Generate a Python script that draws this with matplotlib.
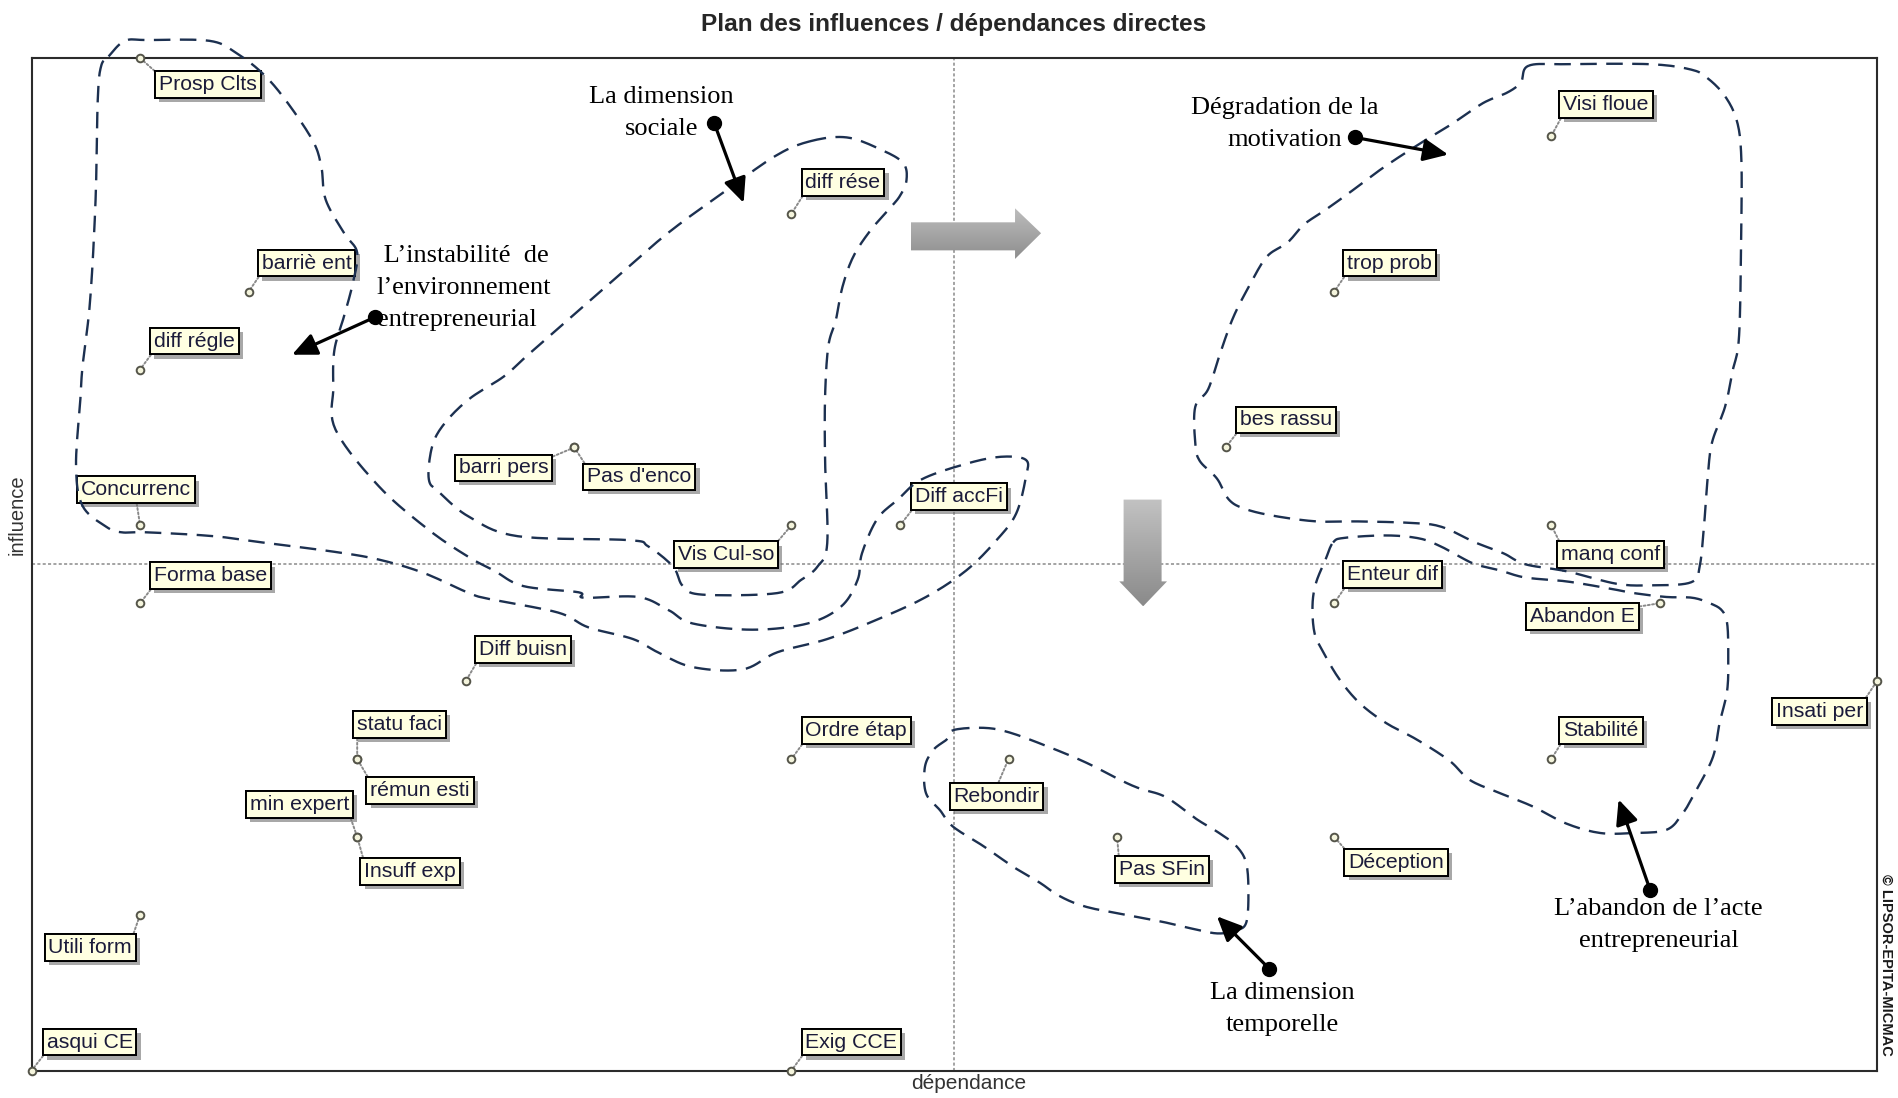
import numpy as np
import matplotlib
matplotlib.use("Agg")
import matplotlib.pyplot as plt
from matplotlib.patches import Polygon
from matplotlib.colors import LinearSegmentedColormap
import matplotlib.patheffects as pe

# ---------------- data ----------------
labels = ["Prosp Clts", "barriè ent", "diff régle", "Concurrenc", "Forma base",
          "barri pers", "Pas d'enco", "Vis Cul-so", "diff rése", "Diff accFi",
          "Diff buisn", "statu faci", "rémun esti", "min expert", "Insuff exp",
          "Utili form", "asqui CE", "Exig CCE", "Ordre étap", "Rebondir",
          "Pas SFin", "Déception", "Visi floue", "trop prob", "bes rassu",
          "manq conf", "Enteur dif", "Abandon E", "Stabilité", "Insati per"]
dependance = [1, 2, 1, 1, 1, 5, 5, 7, 7, 8, 4, 3, 3, 3, 3, 1, 0, 7, 7, 9,
              10, 12, 14, 12, 11, 14, 12, 15, 14, 17]
influence = [13, 10, 9, 7, 6, 8, 8, 7, 11, 7, 5, 4, 4, 3, 3, 2, 0, 0, 4, 4,
             3, 3, 12, 10, 8, 7, 6, 6, 4, 5]

title = "Plan des influences / dépendances directes"
x_label = "dépendance"
y_label = "influence"
credit = "© LIPSOR-EPITA-MICMAC"

# label placement (pixel offsets of the text anchor from its point)
label_offsets = [
    (19, -17, "left", "top"), (13, 19, "left", "bottom"), (14, 19, "left", "bottom"),
    (-4, 26, "center", "bottom"), (14, 18, "left", "bottom"), (-26, -11, "right", "top"),
    (13, -20, "left", "top"), (-17, -20, "right", "top"), (14, 22, "left", "bottom"),
    (15, 19, "left", "bottom"), (13, 22, "left", "bottom"), (0, 25, "left", "bottom"),
    (13, -22, "left", "top"), (-8, 23, "right", "bottom"), (7, -25, "left", "top"),
    (-8, -23, "right", "top"), (15, 19, "left", "bottom"), (14, 19, "left", "bottom"),
    (14, 19, "left", "bottom"), (-12, -28, "center", "top"), (2, -23, "left", "top"),
    (14, -16, "left", "top"), (12, 22, "left", "bottom"), (13, 19, "left", "bottom"),
    (14, 18, "left", "bottom"), (10, -20, "left", "top"), (13, 19, "left", "bottom"),
    (-25, -4, "right", "top"), (12, 19, "left", "bottom"), (-14, -21, "right", "top"),
]

# hand-drawn group outlines (in dependance / influence units)
outline_instabilite = [
    (0.71, 13.02), (0.86, 13.22), (1.07, 13.23), (1.64, 13.22), (1.89, 13.06), (2.13, 12.80),
    (2.34, 12.46), (2.59, 11.94), (2.67, 11.60), (2.71, 11.18), (2.88, 10.75), (3.00, 10.50),
    (2.96, 10.11), (2.88, 9.69), (2.79, 9.25), (2.78, 8.77), (2.80, 8.23), (3.20, 7.50),
    (3.66, 6.94), (4.03, 6.59), (4.26, 6.42), (4.53, 6.22), (5.04, 6.14), (5.09, 6.07),
    (5.59, 6.08), (5.87, 5.91), (6.09, 5.74), (6.64, 5.66), (7.15, 5.74), (7.46, 5.96),
    (7.61, 6.30), (7.65, 6.64), (7.79, 7.08), (7.98, 7.33), (8.20, 7.59), (8.61, 7.79),
    (8.93, 7.88), (9.16, 7.84), (9.16, 7.62), (9.07, 7.15), (8.89, 6.81), (8.61, 6.42),
    (8.24, 6.08), (7.79, 5.79), (7.33, 5.54), (6.87, 5.37), (6.55, 5.15), (6.09, 5.18),
    (5.77, 5.37), (5.54, 5.54), (5.13, 5.69), (4.85, 5.88), (4.23, 6.05), (4.03, 6.13),
    (3.61, 6.39), (3.20, 6.56), (2.79, 6.66), (2.18, 6.77), (1.68, 6.86), (1.07, 6.91),
    (0.83, 6.91), (0.69, 6.98), (0.47, 7.25), (0.41, 7.76), (0.45, 8.62), (0.47, 9.04),
    (0.54, 9.89), (0.59, 11.18), (0.61, 12.46), (0.64, 12.89),
]
outline_sociale = [
    (7.17, 11.93), (7.51, 11.98), (7.83, 11.82), (8.03, 11.65), (8.06, 11.43), (8.00, 11.23),
    (7.90, 11.06), (7.73, 10.79), (7.57, 10.45), (7.47, 10.06), (7.41, 9.64), (7.34, 9.30),
    (7.31, 8.65), (7.31, 7.84), (7.33, 6.77), (7.24, 6.47), (7.09, 6.30), (6.87, 6.13),
    (6.18, 6.11), (6.00, 6.22), (5.91, 6.47), (5.68, 6.73), (5.50, 6.81), (4.48, 6.86),
    (4.03, 7.11), (3.76, 7.42), (3.66, 7.59), (3.69, 8.01), (3.80, 8.30), (4.03, 8.62),
    (4.35, 8.91), (4.55, 9.16), (4.87, 9.55), (5.37, 10.16), (5.86, 10.75), (6.36, 11.26),
    (6.85, 11.74),
]
outline_temporelle = [
    (8.49, 4.37), (8.77, 4.40), (9.01, 4.34), (9.38, 4.15), (9.72, 3.95), (10.03, 3.73),
    (10.21, 3.62), (10.45, 3.51), (10.73, 3.23), (10.94, 3.05), (11.10, 2.88), (11.19, 2.66),
    (11.21, 2.27), (11.19, 1.90), (11.10, 1.80), (10.94, 1.76), (10.76, 1.80), (10.45, 1.90),
    (10.15, 1.98), (9.72, 2.10), (9.47, 2.24), (9.29, 2.41), (9.05, 2.61), (8.77, 2.88),
    (8.49, 3.13), (8.37, 3.34), (8.24, 3.56), (8.23, 3.90), (8.31, 4.12), (8.43, 4.25),
]
outline_motivation = [
    (13.79, 12.90), (14.14, 12.92), (14.91, 12.92), (15.29, 12.85), (15.44, 12.74), (15.60, 12.51),
    (15.71, 12.19), (15.75, 11.73), (15.75, 10.81), (15.73, 9.44), (15.67, 8.98), (15.60, 8.52),
    (15.48, 8.06), (15.44, 7.60), (15.41, 7.05), (15.37, 6.50), (15.29, 6.27), (14.91, 6.23),
    (14.60, 6.25), (14.14, 6.41), (13.76, 6.50), (13.56, 6.64), (13.30, 6.78), (12.99, 6.98),
    (12.72, 7.03), (12.22, 7.05), (11.84, 7.05), (11.45, 7.12), (11.18, 7.21), (11.03, 7.33),
    (10.92, 7.60), (10.76, 7.83), (10.72, 8.06), (10.72, 8.52), (10.84, 8.75), (10.95, 9.21),
    (11.07, 9.67), (11.22, 10.08), (11.38, 10.45), (11.57, 10.63), (11.72, 10.86), (11.91, 11.04),
    (12.14, 11.27), (12.45, 11.59), (12.80, 11.91), (13.07, 12.14), (13.37, 12.42), (13.60, 12.56),
    (13.72, 12.69),
]
outline_abandon = [
    (11.99, 6.78), (12.10, 6.84), (12.49, 6.87), (12.79, 6.83), (12.98, 6.73), (13.14, 6.61),
    (13.30, 6.50), (13.53, 6.42), (13.76, 6.33), (14.14, 6.28), (14.53, 6.19), (14.76, 6.13),
    (15.06, 6.08), (15.30, 6.07), (15.46, 6.00), (15.57, 5.91), (15.62, 5.74), (15.63, 5.32),
    (15.62, 4.88), (15.55, 4.46), (15.49, 4.03), (15.34, 3.61), (15.21, 3.30), (15.06, 3.09),
    (14.76, 3.05), (14.45, 3.05), (14.14, 3.17), (13.83, 3.39), (13.53, 3.56), (13.25, 3.73),
    (13.06, 3.98), (12.76, 4.25), (12.48, 4.46), (12.24, 4.71), (12.05, 5.02), (11.90, 5.37),
    (11.82, 5.61), (11.80, 5.96), (11.83, 6.25), (11.92, 6.56),
]

# group captions: text, centre, alignment, arrow tail (dot) and arrow head
captions = [
    ("La dimension\nsociale", (5.80, 12.29), "center", (6.29, 12.16), (6.56, 11.14)),
    (" L\u2019instabilité  de\nl\u2019environnement\nentrepreneurial", (3.18, 10.05), "left",
     (3.16, 9.67), (2.40, 9.19)),
    ("Dégradation de la\nmotivation", (11.54, 12.15), "center", (12.19, 11.98), (13.05, 11.76)),
    ("La dimension\ntemporelle", (11.52, 0.79), "center", (11.40, 1.31), (10.92, 1.98)),
    ("L\u2019abandon de l\u2019acte\nentrepreneurial", (14.99, 1.87), "center", (14.91, 2.32), (14.62, 3.48)),
]

# grey block arrows
block_right = [(8.10, 10.53), (9.06, 10.53), (9.06, 10.42), (9.30, 10.75), (9.06, 11.07),
               (9.06, 10.89), (8.10, 10.89)]
block_down = [(10.06, 7.33), (10.41, 7.33), (10.41, 6.28), (10.46, 6.28), (10.24, 5.96),
              (10.02, 6.28), (10.06, 6.28)]

X_MAX, Y_MAX = 17, 13

# ---------------- figure ----------------
fig = plt.figure(figsize=(18.99, 10.98), dpi=100)
ax = fig.add_axes([0.0166, 0.025, 0.9718, 0.9222])
ax.set_xlim(0, X_MAX)
ax.set_ylim(0, Y_MAX)
ax.set_xticks([])
ax.set_yticks([])
for s in ax.spines.values():
    s.set_color("#2b2b2b")
    s.set_linewidth(1.5)

# mid lines
ax.axvline(X_MAX / 2, color="#8a8a8a", lw=1.1, ls=(0, (2, 1.5)), zorder=1)
ax.axhline(Y_MAX / 2, color="#8a8a8a", lw=1.1, ls=(0, (2, 1.5)), zorder=1)


def grad_block(poly_xy, c_top, c_bottom):
    poly = Polygon(poly_xy, closed=True, fc="none", ec="none", zorder=2)
    ax.add_patch(poly)
    xs, ys = zip(*poly_xy)
    grad = np.linspace(0, 1, 256).reshape(-1, 1)
    cmap = LinearSegmentedColormap.from_list("g", [c_top, c_bottom])
    im = ax.imshow(grad, extent=(min(xs), max(xs), min(ys), max(ys)), origin="upper",
                   cmap=cmap, aspect="auto", zorder=2, interpolation="bilinear")
    im.set_clip_path(poly)


grad_block(block_right, "#bdbdbd", "#8e8e8e")
grad_block(block_down, "#c2c2c2", "#8a8a8a")
ax.set_xlim(0, X_MAX)
ax.set_ylim(0, Y_MAX)


def smooth_closed(pts, n=10):
    P = np.asarray(pts, dtype=float)
    N = len(P)
    t = np.linspace(0, 1, n, endpoint=False)[:, None]
    segs = []
    for i in range(N):
        p0, p1, p2, p3 = P[i - 1], P[i], P[(i + 1) % N], P[(i + 2) % N]
        segs.append(0.5 * (2 * p1 + (-p0 + p2) * t + (2 * p0 - 5 * p1 + 4 * p2 - p3) * t ** 2
                           + (-p0 + 3 * p1 - 3 * p2 + p3) * t ** 3))
    out = np.vstack(segs)
    return np.vstack([out, out[:1]])


for outline in (outline_instabilite, outline_sociale, outline_temporelle,
                outline_motivation, outline_abandon):
    c = smooth_closed(outline)
    ax.plot(c[:, 0], c[:, 1], color="#1c3050", lw=1.7, ls=(0, (7, 4)),
            zorder=6, clip_on=False, solid_capstyle="butt", dash_capstyle="butt")

# labels with leader lines
for name, x, y, (dx, dy, ha, va) in zip(labels, dependance, influence, label_offsets):
    rel = ({"left": 0.0, "center": 0.5, "right": 1.0}[ha], {"bottom": 0.0, "top": 1.0}[va])
    t = ax.annotate(name, xy=(x, y), xytext=(dx, dy), textcoords="offset pixels",
                    ha=ha, va=va, fontsize=15.3, color="#1b1b3a", family="Liberation Sans",
                    bbox=dict(boxstyle="square,pad=0.18", fc="#ffffe1", ec="black", lw=1.4),
                    arrowprops=dict(arrowstyle="-", color="#8a8a8a", lw=1.4, ls=(0, (1, 1.2)),
                                    shrinkA=0, shrinkB=2, relpos=rel),
                    zorder=4, annotation_clip=False)
    t.get_bbox_patch().set_path_effects(
        [pe.withSimplePatchShadow(offset=(3, -3), shadow_rgbFace="#6e6e6e", alpha=0.6), pe.Normal()])

# points
ax.plot(dependance, influence, "o", ms=5.5, mfc="#f4f4dc", mec="#55554a", mew=1.4,
        ls="none", zorder=5, clip_on=False)

# captions with arrows
for text, (tx, ty), ha, tail, head in captions:
    ax.text(tx, ty, text, ha=ha, va="center", fontsize=19, family="Liberation Serif",
            color="black", linespacing=1.6, zorder=7, multialignment=ha)
    ax.annotate("", xy=head, xytext=tail,
                arrowprops=dict(arrowstyle="-|>,head_length=0.75,head_width=0.34",
                                mutation_scale=20, lw=2.3, color="black",
                                shrinkA=0, shrinkB=0), zorder=8)
    ax.plot([tail[0]], [tail[1]], "o", ms=10, color="black", zorder=8)

# titles
fig.text(0.502, 0.978, title, ha="center", va="center", fontsize=17.6, fontweight="bold",
         family="Liberation Sans", color="#262626")
fig.text(0.510, 0.0128, x_label, ha="center", va="center", fontsize=15,
         family="Liberation Sans", color="#333333")
fig.text(0.009, 0.531, y_label, ha="center", va="center", fontsize=14.5, rotation=90,
         family="Liberation Sans", color="#333333")
fig.text(0.9935, 0.121, credit, ha="center", va="center", fontsize=10.5, rotation=-90,
         fontweight="bold", family="Liberation Sans", color="#1a1a1a")

fig.savefig("out.png", dpi=100)
